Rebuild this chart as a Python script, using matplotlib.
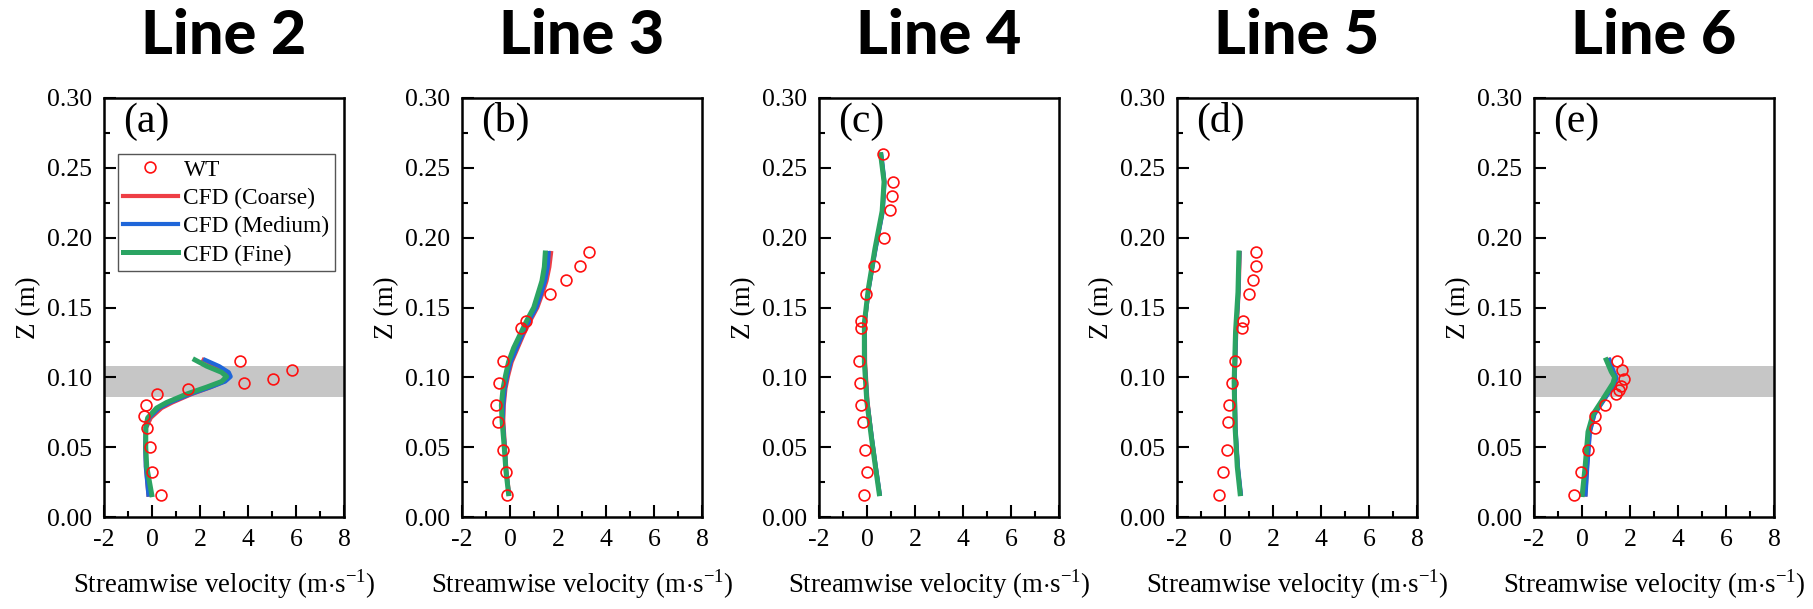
import matplotlib
matplotlib.use("Agg")
import matplotlib.pyplot as plt
from matplotlib.ticker import MultipleLocator, FormatStrFormatter

plt.rcParams['font.family'] = ['Liberation Serif', 'DejaVu Serif']
plt.rcParams['mathtext.fontset'] = 'custom'
plt.rcParams['mathtext.rm'] = 'Liberation Serif'
plt.rcParams['axes.unicode_minus'] = False

# ---------------- data ----------------
titles = ["Line 2", "Line 3", "Line 4", "Line 5", "Line 6"]
panel_tags = ["(a)", "(b)", "(c)", "(d)", "(e)"]
band_low, band_high = 0.086, 0.108
band_panels = [0, 4]

# WT measurements
wt_a_x = [3.67, 5.85, 5.06, 3.82, 1.51, 0.22, -0.25, -0.33, -0.22, -0.10, 0.01, 0.38]
wt_a_z = [0.112, 0.105, 0.099, 0.096, 0.092, 0.088, 0.080, 0.072, 0.064, 0.050, 0.032, 0.016]
wt_b_x = [3.28, 2.93, 2.35, 1.68, 0.67, 0.47, -0.31, -0.47, -0.57, -0.50, -0.29, -0.17, -0.11]
wt_b_z = [0.190, 0.180, 0.170, 0.160, 0.140, 0.135, 0.112, 0.096, 0.080, 0.068, 0.048, 0.032, 0.016]
wt_c_x = [0.65, 1.10, 1.03, 0.97, 0.71, 0.31, -0.04, -0.24, -0.24, -0.35, -0.28, -0.24, -0.15, -0.10, -0.01, -0.11]
wt_c_z = [0.260, 0.240, 0.230, 0.220, 0.200, 0.180, 0.160, 0.140, 0.135, 0.112, 0.096, 0.080, 0.068, 0.048, 0.032, 0.016]
wt_d_x = [1.28, 1.29, 1.15, 1.00, 0.76, 0.69, 0.42, 0.29, 0.18, 0.14, 0.08, -0.08, -0.24]
wt_d_z = [0.190, 0.180, 0.170, 0.160, 0.140, 0.135, 0.112, 0.096, 0.080, 0.068, 0.048, 0.032, 0.016]
wt_e_x = [1.44, 1.68, 1.75, 1.64, 1.53, 1.43, 0.96, 0.54, 0.54, 0.24, -0.06, -0.35]
wt_e_z = [0.112, 0.105, 0.099, 0.094, 0.091, 0.088, 0.080, 0.072, 0.064, 0.048, 0.032, 0.016]

# CFD profiles
z_a = [0.016, 0.036, 0.050, 0.064, 0.071, 0.078, 0.082, 0.088, 0.093, 0.097, 0.1005, 0.1036, 0.108, 0.1125]
coarse_a = [-0.15, -0.25, -0.27, -0.24, -0.05, 0.40, 0.85, 1.65, 2.45, 3.00, 3.18, 3.05, 2.65, 2.15]
medium_a = [-0.15, -0.26, -0.28, -0.26, -0.12, 0.30, 0.75, 1.60, 2.45, 3.05, 3.28, 3.20, 2.80, 2.21]
fine_a = [-0.01, -0.22, -0.26, -0.26, -0.18, 0.19, 0.61, 1.44, 2.28, 2.90, 3.11, 2.90, 2.28, 1.79]

z_b = [0.0167, 0.033, 0.050, 0.069, 0.080, 0.092, 0.101, 0.111, 0.121, 0.131, 0.141, 0.150, 0.160, 0.169, 0.179, 0.189]
coarse_b = [-0.04, -0.15, -0.21, -0.28, -0.26, -0.19, -0.08, 0.07, 0.32, 0.57, 0.86, 1.14, 1.35, 1.52, 1.64, 1.71]
medium_b = [-0.05, -0.16, -0.22, -0.30, -0.28, -0.22, -0.12, 0.03, 0.28, 0.53, 0.82, 1.10, 1.30, 1.46, 1.57, 1.61]
fine_b = [-0.06, -0.17, -0.24, -0.33, -0.36, -0.29, -0.19, -0.06, 0.15, 0.43, 0.71, 0.99, 1.17, 1.33, 1.43, 1.47]

z_c = [0.0167, 0.036, 0.056, 0.083, 0.111, 0.139, 0.164, 0.192, 0.219, 0.240, 0.2594]
coarse_c = [0.52, 0.36, 0.20, 0.02, -0.08, -0.09, 0.07, 0.35, 0.65, 0.72, 0.58]
medium_c = [0.53, 0.37, 0.21, 0.01, -0.10, -0.10, 0.08, 0.36, 0.66, 0.73, 0.60]
fine_c = [0.51, 0.35, 0.19, -0.01, -0.11, -0.11, 0.06, 0.33, 0.63, 0.71, 0.57]

z_d = [0.0167, 0.036, 0.064, 0.097, 0.133, 0.161, 0.189]
coarse_d = [0.65, 0.53, 0.43, 0.40, 0.47, 0.57, 0.61]
medium_d = [0.66, 0.54, 0.44, 0.40, 0.46, 0.56, 0.60]
fine_d = [0.63, 0.51, 0.42, 0.38, 0.44, 0.54, 0.58]

z_e = [0.0161, 0.036, 0.061, 0.0736, 0.0847, 0.0958, 0.100, 0.104, 0.1125]
coarse_e = [0.14, 0.21, 0.32, 0.51, 0.94, 1.36, 1.42, 1.30, 1.12]
medium_e = [0.15, 0.22, 0.33, 0.52, 0.95, 1.38, 1.43, 1.32, 1.15]
fine_e = [0.01, 0.13, 0.25, 0.46, 0.88, 1.29, 1.36, 1.22, 1.01]

wt_x = [wt_a_x, wt_b_x, wt_c_x, wt_d_x, wt_e_x]
wt_z = [wt_a_z, wt_b_z, wt_c_z, wt_d_z, wt_e_z]
cfd_z = [z_a, z_b, z_c, z_d, z_e]
cfd_coarse = [coarse_a, coarse_b, coarse_c, coarse_d, coarse_e]
cfd_medium = [medium_a, medium_b, medium_c, medium_d, medium_e]
cfd_fine = [fine_a, fine_b, fine_c, fine_d, fine_e]

c_red = '#EE3E45'
c_blue = '#1F66D9'
c_green = '#2BA463'
c_wt = '#FF1010'

W, H = 1813, 609
fig = plt.figure(figsize=(W / 100, H / 100), dpi=100)

lefts = [104, 462, 819, 1177, 1534]
ax_w, ax_top, ax_bot = 240, 98, 517

for i in range(5):
    ax = fig.add_axes([lefts[i] / W, 1 - ax_bot / H, ax_w / W, (ax_bot - ax_top) / H])
    ax.set_xlim(-2, 8)
    ax.set_ylim(0, 0.30)
    if i in band_panels:
        ax.axhspan(band_low, band_high, color='#c6c6c6', lw=0, zorder=0)
    ax.plot(wt_x[i], wt_z[i], 'o', ls='none', mfc='none', mec=c_wt, ms=7.8, mew=1.2,
            label='WT', zorder=5)
    ax.plot(cfd_coarse[i], cfd_z[i], color=c_red, lw=3.0, label='CFD (Coarse)', zorder=2)
    ax.plot(cfd_medium[i], cfd_z[i], color=c_blue, lw=3.0, label='CFD (Medium)', zorder=3)
    ax.plot(cfd_fine[i], cfd_z[i], color=c_green, lw=3.6, label='CFD (Fine)', zorder=4)

    ax.xaxis.set_major_locator(MultipleLocator(2))
    ax.xaxis.set_minor_locator(MultipleLocator(1))
    ax.yaxis.set_major_locator(MultipleLocator(0.05))
    ax.yaxis.set_minor_locator(MultipleLocator(0.025))
    ax.yaxis.set_major_formatter(FormatStrFormatter('%.2f'))
    ax.tick_params(which='both', direction='in', top=False, right=False, labelsize=18.5)
    ax.tick_params(which='major', length=8.5, width=1.5, pad=8.5)
    ax.tick_params(which='minor', length=4.5, width=1.5)
    for s in ax.spines.values():
        s.set_linewidth(1.8)

    ax.set_xlabel('Streamwise velocity (m$\\cdot$s$^{\\mathregular{-1}}$)', fontsize=19.3, labelpad=12)
    ax.set_ylabel('Z (m)', fontsize=19.5, labelpad=4)
    ax.text(0.079, 0.943, panel_tags[i], transform=ax.transAxes, fontsize=30,
            ha='left', va='center')

    fig.text((lefts[i] + ax_w / 2) / W, 1 - 54 / H, titles[i],
             family=['Lato', 'DejaVu Sans'], fontweight='black', fontsize=44,
             ha='center', va='baseline')

    if i == 0:
        ax.legend(loc='upper left', bbox_to_anchor=(0.057, 0.866), borderaxespad=0,
                  borderpad=0.22, handlelength=2.35, handletextpad=0.25, labelspacing=0.3,
                  fontsize=16.8, fancybox=False, edgecolor='#555555', framealpha=1,
                  frameon=True)

fig.savefig('out.png', dpi=100)
